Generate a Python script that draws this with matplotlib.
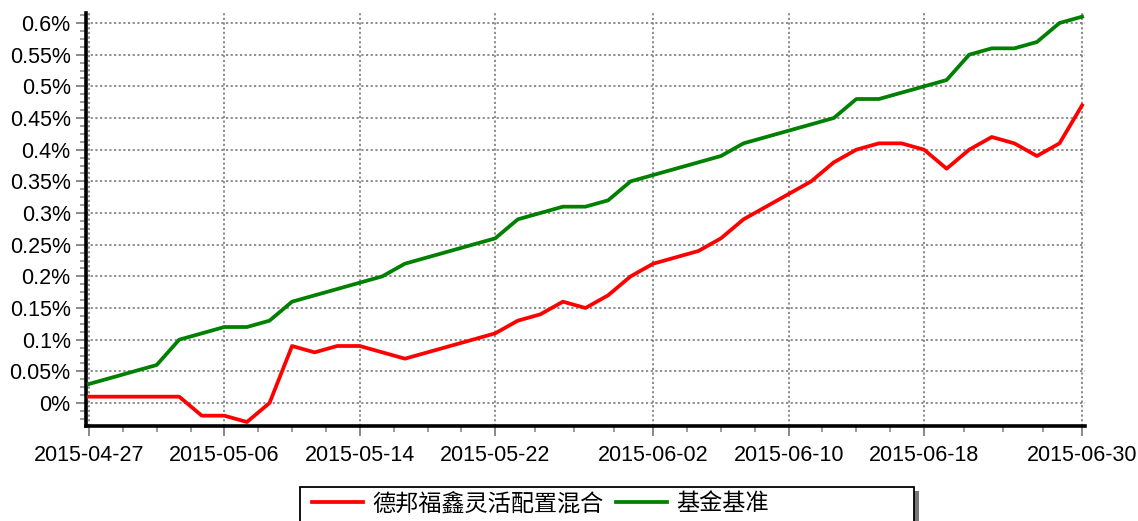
import numpy as np
import matplotlib
matplotlib.use('Agg')
import matplotlib.pyplot as plt
from matplotlib.patches import Rectangle
from matplotlib.ticker import FixedLocator, MultipleLocator, FuncFormatter

# trading days
dates = ['2015-04-27', '2015-04-28', '2015-04-29', '2015-04-30',
         '2015-05-04', '2015-05-05', '2015-05-06', '2015-05-07', '2015-05-08',
         '2015-05-11', '2015-05-12', '2015-05-13', '2015-05-14', '2015-05-15',
         '2015-05-18', '2015-05-19', '2015-05-20', '2015-05-21', '2015-05-22',
         '2015-05-25', '2015-05-26', '2015-05-27', '2015-05-28', '2015-05-29',
         '2015-06-01', '2015-06-02', '2015-06-03', '2015-06-04', '2015-06-05',
         '2015-06-08', '2015-06-09', '2015-06-10', '2015-06-11', '2015-06-12',
         '2015-06-15', '2015-06-16', '2015-06-17', '2015-06-18', '2015-06-19',
         '2015-06-23', '2015-06-24', '2015-06-25', '2015-06-26',
         '2015-06-29', '2015-06-30']

fund = [0.01, 0.01, 0.01, 0.01, 0.01, -0.02, -0.02, -0.03, 0.00,
        0.09, 0.08, 0.09, 0.09, 0.08, 0.07, 0.08, 0.09, 0.10, 0.11,
        0.13, 0.14, 0.16, 0.15, 0.17, 0.20, 0.22, 0.23, 0.24, 0.26,
        0.29, 0.31, 0.33, 0.35, 0.38, 0.40, 0.41, 0.41, 0.40, 0.37,
        0.40, 0.42, 0.41, 0.39, 0.41, 0.47]

bench = [0.03, 0.04, 0.05, 0.06, 0.10, 0.11, 0.12, 0.12, 0.13, 0.16,
         0.17, 0.18, 0.19, 0.20, 0.22, 0.23, 0.24, 0.25, 0.26, 0.29,
         0.30, 0.31, 0.31, 0.32, 0.35, 0.36, 0.37, 0.38, 0.39, 0.41,
         0.42, 0.43, 0.44, 0.45, 0.48, 0.48, 0.49, 0.50, 0.51, 0.55,
         0.56, 0.56, 0.57, 0.60, 0.61]

tick_dates = ['2015-04-27', '2015-05-06', '2015-05-14', '2015-05-22',
              '2015-06-02', '2015-06-10', '2015-06-18', '2015-06-30']

labels = ['德邦福鑫灵活配置混合', '基金基准']

W, H = 1138, 521
fig = plt.figure(figsize=(W / 100, H / 100), dpi=100)
ax = fig.add_axes([86 / W, 1 - 426 / H, (1085 - 86) / W, (426 - 13) / H])

x = np.arange(len(dates))
ax.plot(x, fund, color='#ff0000', lw=2.7, label=labels[0], zorder=3)
ax.plot(x, bench, color='#008000', lw=2.7, label=labels[1], zorder=3)

ax.set_xlim(-0.13, 44.13)
ax.set_ylim(-0.0363, 0.6158)

major = [dates.index(d) for d in tick_dates]
minor = np.concatenate([np.linspace(a, b, 5)[1:-1] for a, b in zip(major[:-1], major[1:])])
ax.xaxis.set_major_locator(FixedLocator(major))
ax.xaxis.set_minor_locator(FixedLocator(minor))
ax.set_xticklabels(tick_dates)

ax.yaxis.set_major_locator(MultipleLocator(0.05))
ax.yaxis.set_minor_locator(MultipleLocator(0.0125))
ax.yaxis.set_major_formatter(FuncFormatter(lambda v, p: f'{round(v, 2):g}%'))

for s in ['top', 'right']:
    ax.spines[s].set_visible(False)
for s in ['left', 'bottom']:
    ax.spines[s].set_linewidth(2.6)
    ax.spines[s].set_color('black')

ax.grid(True, which='major', color='#7a7a7a', linestyle=(0, (1.3, 1.5)), linewidth=1.2)
ax.tick_params(axis='both', which='major', length=7, width=1.3, color='#808080',
               labelsize=15.5, labelcolor='black')
ax.tick_params(axis='both', which='minor', length=4, width=1.1, color='#808080')
ax.tick_params(axis='x', pad=7)
ax.tick_params(axis='y', pad=4)
for t in ax.get_xticklabels() + ax.get_yticklabels():
    t.set_fontfamily('Liberation Sans')

# legend box with shadow, cut off at the bottom edge of the figure
box_l, box_r, box_t = 300, 914, 487
fig.patches.append(Rectangle(((box_l + 5) / W, -0.1), (box_r - box_l) / W, (H - box_t - 4) / H + 0.1,
                             transform=fig.transFigure, facecolor='#777777', edgecolor='none', zorder=1))
fig.patches.append(Rectangle((box_l / W, -0.1), (box_r - box_l) / W, (H - box_t) / H + 0.1,
                             transform=fig.transFigure, facecolor='white', edgecolor='black',
                             linewidth=1.3, zorder=2))
leg = fig.legend(loc='center left', bbox_to_anchor=(300 / W, 1 - 504 / H), ncol=2,
                 frameon=False, prop={'family': ['Noto Sans CJK SC', 'DejaVu Sans'], 'size': 16.7},
                 handlelength=2.2, handletextpad=0.4, columnspacing=0.55, borderpad=0)
leg.set_zorder(3)

fig.savefig('out.png', dpi=100)
